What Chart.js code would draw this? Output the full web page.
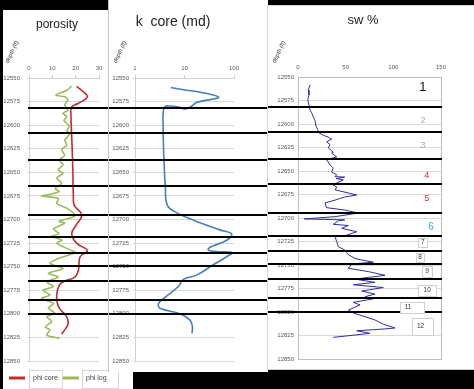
<!DOCTYPE html>
<html><head><meta charset="utf-8">
<script src="https://cdn.jsdelivr.net/npm/chart.js@4.4.1/dist/chart.umd.min.js"></script>
<style>
html,body{margin:0;padding:0;background:#000;width:474px;height:389px;overflow:hidden;}
.panel{position:absolute;background:#fff;}
#p1{left:3px;top:10px;width:130px;height:379px;z-index:1;}
#p2{left:108px;top:0;width:159px;height:372px;z-index:2;border-left:1px solid #c8c8c8;}
#p3{left:267px;top:5px;width:206px;height:363px;z-index:3;border:1px solid #d4d4d4;}
canvas{display:block;}
</style></head><body>
<div class="panel" id="p1"><canvas id="c1" width="130" height="379"></canvas></div>
<div class="panel" id="p2"><canvas id="c2" width="159" height="372"></canvas></div>
<div class="panel" id="p3"><canvas id="c3" width="206" height="363"></canvas></div>
<script>
// ---------- data ----------
const depthTicks = [12550,12575,12600,12625,12650,12675,12700,12725,12750,12775,12800,12825,12850];
const porosityTicks = [0,10,20,30];
const kTicks = [1,10,100];
const swTicks = [0,50,100,150];

const phiCoreDepth = [12559,12563,12570,12577,12581,12590,12600,12625,12650,12674,12685,12695,12706,12715,12725,12733,12739.5,12753.5,12761,12767,12775,12785.5,12794,12803,12810,12817,12821.5];
const phiCoreValue = [20.4,22.5,25,21,18.2,18,18.1,18.5,18.8,19,19.4,22.6,20.2,18.3,20.4,25,21.9,21.2,19.7,14,12.2,11.9,13,16.1,16.8,15.3,14];

const phiLogDepth = [12558.5,12563,12568,12570,12573,12578.6,12584,12587.5,12591,12595,12601,12606,12609,12616,12621,12626,12632,12637,12642,12647.5,12651,12656,12661.7,12667,12670.5,12674,12675,12677.6,12683,12688,12696,12702,12704,12710,12715,12718,12722,12725,12730.6,12735,12741,12746.5,12752,12757,12761,12766,12771,12775,12780,12783.6,12789,12794,12799.5,12803,12808,12814,12817,12822.5,12826];
const phiLogValue = [18.3,16.2,11.5,15.3,16.7,15.3,16.7,14.6,16.2,15,17.2,16.2,17.5,15.3,16.2,14,15.3,12.9,14.6,12.5,14.6,11.9,14,11.2,12.9,7.6,5.5,12.5,11.9,16.2,19.7,12.9,15.3,10.5,12.9,9.7,14,11.9,16.2,19.7,12.9,9,14.6,8.3,12.5,7.6,10.5,6.1,9,5.5,10.5,8.3,11.2,7.6,9.7,7,9,7.6,12.9];

const kDepth = [12560,12570,12576,12579.7,12583,12581,12579.7,12580.4,12587.4,12600,12630,12665,12684.7,12693,12702,12711,12715.4,12722,12729.5,12732.4,12734,12735,12739.5,12748,12759,12763.5,12771,12781,12789,12794,12800,12806.6,12813,12820.7];
const kValue = [5.3,48,17.6,14,10.2,8.1,5.1,4,3.7,3.7,3.8,4.1,4.5,7,17.6,52,90,71,32.8,30.3,44.7,90,71,38,17.6,9.5,7.5,4.4,3,3.2,8.1,12.9,14.4,14.2];

const swDepth = [12558.5,12564,12569,12574,12580,12585,12588,12592.5,12596,12601,12606,12609.5,12612,12614,12616,12619,12622,12625.5,12630,12631,12635,12638,12643.5,12647,12651,12654,12656,12656.5,12658,12659.5,12662,12665,12667,12670,12675.5,12677.6,12681,12684,12689,12691.5,12694.7,12698.6,12701,12702,12703,12706.7,12708,12711,12714.6,12719,12720,12725,12730.5,12734,12739,12743,12744.7,12747,12749,12753.5,12757,12761,12765,12768.5,12771,12774,12777.7,12781,12783.7,12786,12789.7,12792.5,12798,12801,12805,12808.5,12813,12817,12818,12820,12822.7,12827];
const swValue = [12.6,10.8,11.5,10.2,11.5,12.6,14.3,16,17.8,18.5,20.6,22,26.6,31.8,35.3,30,33.6,31.8,37,35.3,40.6,30,33.6,37,35.3,40.6,38.8,49,40,47.5,42,37,40.6,38.8,61.6,49,38.8,28.3,30,49,63,38.8,6.6,49,42.3,37,52.8,45.8,61.6,49,38.8,40.6,42.3,49,52.8,59.8,66.8,79,56.3,52.8,73.8,91.3,59.8,80.8,58,89.5,66.8,80.8,70.3,79,58,65,52.8,58,70.3,80.8,89.5,101.8,91.3,61.6,75.5,37];

const zoneBoundaries = [12582,12608.5,12637,12664,12695,12719,12735.5,12749,12765,12785.5,12800.5];
const zoneNames = ['1','2','3','4','5','6','7','8','9','10','11','12'];
const zoneLabelDepth = [12560.6,12596.8,12623.4,12655.3,12679.8,12709.6,12726,12742,12757,12777,12795,12815.4];
const zoneLabelSw = [131,131,131,135,135,139.5,131,128,135.5,135.5,115.5,128.5];

// ---------- styles ----------
const FONT = '"Liberation Sans", Arial, sans-serif';
Chart.defaults.font.family = FONT;
const zoneLabelColor = ['#111','#a7a7cf','#a8a8a8','#e3262b','#e3262b','#35a9e2','#333','#333','#333','#333','#333','#333'];
const zoneLabelSize = [13,9,9,9,9,10,6.5,6.5,6.5,6.5,6.5,6.5];
const zoneLabelBox = [null,null,null,null,null,null,[9,9,0],[8,9,0],[10,11,0],[18,11,0],[24,11,4],[21,17,2]];

function pts(d, v){ return d.map((dd,i)=>({x:v[i], y:dd})); }

function depthScale(w, tickLen, pad, borderOn){
  return {
    type:'linear', reverse:true, min:12550, max:12850,
    afterBuildTicks: s => { s.ticks = depthTicks.map(v=>({value:v})); },
    afterFit: s => { s.width = w; },
    ticks:{callback:v=>String(v), font:{size:6}, color:'#595959', padding:pad, autoSkip:false, maxRotation:0},
    grid:{color:'#d9d9d9', lineWidth:1, drawTicks: tickLen>0, tickLength: tickLen},
    border:{display:borderOn, color:'#d0d0d0'}
  };
}
function valueScale(type, min, max, tickList, tickLen, pad, borderOn){
  return {
    type, position:'top', min, max,
    afterBuildTicks: s => { s.ticks = tickList.map(v=>({value:v})); },
    afterFit: s => { s.height = 14; },
    ticks:{callback:v=>String(v), font:{size:6}, color:'#595959', padding:pad, autoSkip:false, maxRotation:0},
    grid:{drawOnChartArea:false, color: tickLen>0 ? '#d0d0d0' : 'rgba(0,0,0,0)', drawTicks:true, tickLength: tickLen>0 ? tickLen : 1},
    border:{display:borderOn, color:'#d0d0d0'}
  };
}

const textPlugin = {
  id:'panelText',
  afterDraw(chart, args, opts){
    const ctx = chart.ctx;
    (opts.items||[]).forEach(it=>{
      ctx.save(); ctx.translate(it.x, it.y); if(it.rot) ctx.rotate(it.rot*Math.PI/180);
      ctx.font = it.font; ctx.fillStyle = it.color || '#222';
      ctx.textAlign='center'; ctx.textBaseline='middle';
      ctx.fillText(it.text,0,0); ctx.restore();
    });
  }
};
const zoneLinePlugin = {
  id:'zoneLines',
  afterDatasetsDraw(chart, args, opts){
    const {ctx, chartArea, scales} = chart;
    const x0 = opts.fromPlot ? chartArea.left - 1 : 0;
    const x1 = opts.toPlot ? chartArea.right + 1 : chart.width;
    ctx.save(); ctx.strokeStyle='#000'; ctx.lineWidth=2;
    zoneBoundaries.forEach(d=>{
      const py = Math.round(scales.y.getPixelForValue(d));
      ctx.beginPath(); ctx.moveTo(x0,py); ctx.lineTo(x1,py); ctx.stroke();
    });
    ctx.restore();
  }
};
const boxPlugin = {
  id:'plotBox',
  beforeDatasetsDraw(chart){
    const {ctx, chartArea:a} = chart;
    ctx.save(); ctx.strokeStyle='#bfbfbf'; ctx.lineWidth=1;
    ctx.strokeRect(Math.round(a.left)+0.5, Math.round(a.top)+0.5, Math.round(a.right-a.left), Math.round(a.bottom-a.top));
    ctx.restore();
  }
};
const zoneLabelPlugin = {
  id:'zoneLabels',
  afterDraw(chart){
    const {ctx, scales} = chart;
    ctx.save();
    zoneNames.forEach((n,i)=>{
      const x = scales.x.getPixelForValue(zoneLabelSw[i]);
      const y = scales.y.getPixelForValue(zoneLabelDepth[i]);
      const b = zoneLabelBox[i];
      if(b){
        ctx.fillStyle='#fff'; ctx.strokeStyle='#d0d0d0'; ctx.lineWidth=1;
        const bx = Math.round(x + b[2] - b[0]/2)+0.5, by = Math.round(y - b[1]/2)+0.5;
        ctx.fillRect(bx,by,b[0],b[1]); ctx.strokeRect(bx,by,b[0],b[1]);
      }
      ctx.fillStyle = zoneLabelColor[i];
      ctx.font = zoneLabelSize[i] + 'px ' + FONT;
      ctx.textAlign='center'; ctx.textBaseline='middle';
      ctx.fillText(n, x, y);
    });
    ctx.restore();
  }
};
const legendPlugin = {
  id:'boxLegend',
  afterDraw(chart, args, opts){
    const ctx = chart.ctx;
    ctx.save();
    chart.data.datasets.forEach((ds,i)=>{
      const lx = opts.lineX[i], bx = opts.boxX[i], bw = opts.boxW[i];
      ctx.strokeStyle = ds.borderColor; ctx.lineWidth = 3;
      ctx.beginPath(); ctx.moveTo(lx, opts.y); ctx.lineTo(lx+16, opts.y); ctx.stroke();
      ctx.strokeStyle='#d6d6d6'; ctx.lineWidth=1;
      ctx.strokeRect(bx+0.5, opts.boxTop+0.5, bw, opts.boxH);
      ctx.fillStyle='#404040'; ctx.font='7px '+FONT; ctx.textAlign='left'; ctx.textBaseline='middle';
      ctx.fillText(ds.label, bx+4, opts.y);
    });
    ctx.restore();
  }
};

const lineDs = (label, data, color, width, tension) => ({
  label, data, borderColor: color, backgroundColor: color, borderWidth: width,
  showLine:true, pointRadius:0, tension, fill:false
});

// ---------- porosity ----------
new Chart(document.getElementById('c1'), {
  type:'scatter',
  data:{datasets:[
    lineDs('phi core', pts(phiCoreDepth, phiCoreValue), '#c42b2f', 1.6, 0.4),
    lineDs('phi log', pts(phiLogDepth, phiLogValue), '#9bbb59', 1.6, 0.25)
  ]},
  options:{
    responsive:false, animation:false, devicePixelRatio:1,
    layout:{padding:{left:0, top:54, right:34, bottom:28}},
    scales:{ x: valueScale('linear',0,30,porosityTicks,3,3,true), y: depthScale(26,2,7,true) },
    plugins:{
      legend:{display:false}, tooltip:{enabled:false},
      zoneLines:{fromPlot:true, toPlot:false},
      panelText:{items:[
        {text:'porosity', x:54, y:15, font:'12px '+FONT, color:'#222'},
        {text:'depth (ft)', x:9, y:42, rot:-65, font:'italic 6px '+FONT, color:'#444'}
      ]},
      boxLegend:{y:368, boxTop:360, boxH:18, lineX:[6,60], boxX:[26,79], boxW:[33,36]}
    }
  },
  plugins:[zoneLinePlugin, textPlugin, legendPlugin]
});

// ---------- k core ----------
new Chart(document.getElementById('c2'), {
  type:'scatter',
  data:{datasets:[ lineDs('k core', pts(kDepth, kValue), '#4a7ebb', 1.6, 0.4) ]},
  options:{
    responsive:false, animation:false, devicePixelRatio:1,
    layout:{padding:{left:0, top:64, right:34, bottom:11}},
    scales:{ x: valueScale('logarithmic',1,100,kTicks,3,3,true), y: depthScale(26,2,4,true) },
    plugins:{
      legend:{display:false}, tooltip:{enabled:false},
      zoneLines:{fromPlot:false, toPlot:false},
      panelText:{items:[
        {text:'k  core (md)', x:64, y:22, font:'14px '+FONT, color:'#222'},
        {text:'depth (ft)', x:11, y:52, rot:-65, font:'italic 6px '+FONT, color:'#444'}
      ]}
    }
  },
  plugins:[zoneLinePlugin, textPlugin]
});

// ---------- sw ----------
new Chart(document.getElementById('c3'), {
  type:'scatter',
  data:{datasets:[ lineDs('sw %', pts(swDepth, swValue), '#2e2e9c', 1, 0) ]},
  options:{
    responsive:false, animation:false, devicePixelRatio:1,
    layout:{padding:{left:0, top:57, right:33, bottom:10}},
    scales:{ x: valueScale('linear',0,150,swTicks,0,5,false),
             y: depthScale(30,0,4,false) },
    plugins:{
      legend:{display:false}, tooltip:{enabled:false},
      zoneLines:{fromPlot:false, toPlot:true},
      panelText:{items:[
        {text:'sw %', x:95, y:14, font:'13px '+FONT, color:'#222'},
        {text:'depth (ft)', x:11, y:46, rot:-65, font:'italic 6px '+FONT, color:'#444'}
      ]}
    }
  },
  plugins:[boxPlugin, zoneLinePlugin, zoneLabelPlugin, textPlugin]
});
</script>
</body></html>
